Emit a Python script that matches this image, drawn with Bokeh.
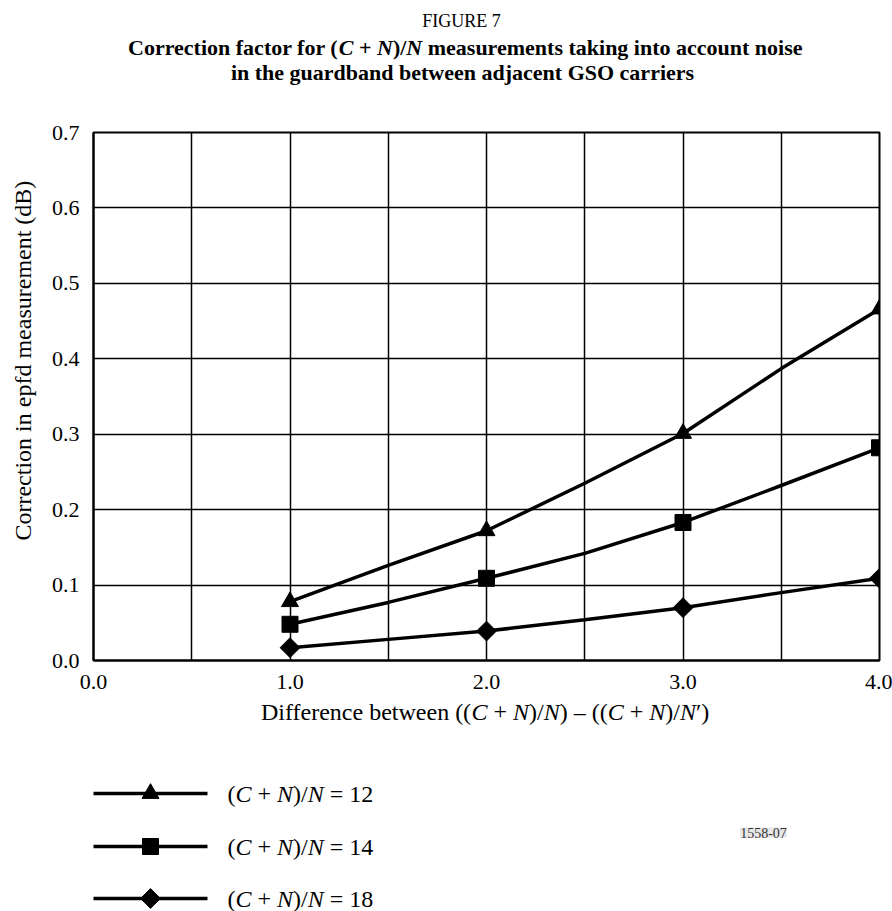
import math
from bokeh.plotting import figure
from bokeh.models import Range1d, FixedTicker, NumeralTickFormatter, Label
from bokeh.layouts import column, row
from bokeh.core.properties import value
from bokeh.embed import file_html
from bokeh.resources import INLINE

# ---------------- data ----------------
x_pts = [1.0, 2.0, 3.0, 4.0]
x_line = [1.0, 1.5, 2.0, 2.5, 3.0, 3.5, 4.0]

cn12_pts = [0.078, 0.172, 0.301, 0.466]
cn12_line = [0.078, 0.126, 0.172, 0.235, 0.301, 0.387, 0.466]
cn14_pts = [0.048, 0.109, 0.183, 0.282]
cn14_line = [0.048, 0.077, 0.109, 0.142, 0.183, 0.232, 0.282]
cn18_pts = [0.017, 0.039, 0.070, 0.109]
cn18_line = [0.017, 0.028, 0.039, 0.054, 0.070, 0.090, 0.109]

x_ticks = [0.0, 1.0, 2.0, 3.0, 4.0]
x_grid = [0.0, 0.5, 1.0, 1.5, 2.0, 2.5, 3.0, 3.5, 4.0]
y_ticks = [0.0, 0.1, 0.2, 0.3, 0.4, 0.5, 0.6, 0.7]

legend_values = ["12", "14", "18"]

FONT = "Liberation Serif"

# ---------------- text metrics (Times / Liberation Serif) ----------------
REG = {' ': 250, '(': 333, ')': 333, '/': 278, '+': 564, '=': 564, '\u2013': 500,
       '\u2032': 250, '.': 250, '-': 333}
for d in "0123456789":
    REG[d] = 500
REG.update(dict(zip("abcdefghijklmnopqrstuvwxyz",
                    [444, 500, 444, 500, 444, 333, 500, 500, 278, 278, 500, 278, 778,
                     500, 500, 500, 500, 333, 389, 278, 500, 500, 722, 500, 500, 444])))
REG.update(dict(zip("ABCDEFGHIJKLMNOPQRSTUVWXYZ",
                    [722, 667, 667, 722, 611, 556, 722, 722, 333, 389, 722, 611, 889,
                     722, 722, 556, 722, 667, 556, 611, 722, 722, 944, 722, 722, 611])))
ITAL = dict(REG)
ITAL.update({'C': 667, 'N': 667})
BOLD = {' ': 250, '(': 333, ')': 333, '/': 278, '+': 570, '=': 570}
BOLD.update(dict(zip("abcdefghijklmnopqrstuvwxyz",
                     [500, 556, 444, 556, 444, 333, 500, 556, 278, 333, 556, 278, 833,
                      556, 500, 556, 556, 444, 389, 333, 556, 500, 722, 500, 500, 444])))
BOLD.update(dict(zip("ABCDEFGHIJKLMNOPQRSTUVWXYZ",
                     [722, 667, 722, 722, 667, 611, 778, 778, 389, 500, 778, 667, 944,
                      722, 778, 611, 778, 722, 556, 667, 722, 722, 1000, 722, 722, 667])))
BOLDITAL = dict(BOLD)
BOLDITAL.update({'C': 667, 'N': 722})
TABLES = {"normal": REG, "italic": ITAL, "bold": BOLD, "bold italic": BOLDITAL}


def seg_width(s, style, size):
    t = TABLES[style]
    return sum(t.get(ch, 500) for ch in s) / 1000.0 * size


def rich_text(f, segs, x, y, size, align="center"):
    total = sum(seg_width(s, st, size) for s, st in segs)
    cx = x - total / 2.0 if align == "center" else x
    for s, st in segs:
        lead = len(s) - len(s.lstrip(" "))
        core = s.strip(" ")
        if core:
            f.text(x=[cx + seg_width(" " * lead, st, size)], y=[y], text=[core],
                   text_font=value(FONT), text_font_size=f"{size}px",
                   text_font_style=st, text_align="left", text_baseline="middle",
                   text_color="black")
        cx += seg_width(s, st, size)


def canvas(w, h):
    f = figure(width=w, height=h, x_range=Range1d(0, w), y_range=Range1d(0, h),
               min_border=0, toolbar_location=None, output_backend="svg",
               x_axis_type=None, y_axis_type=None)
    f.outline_line_color = None
    f.grid.visible = False
    f.background_fill_color = "white"
    f.border_fill_color = "white"
    return f


# ---------------- title ----------------
TH = 108
title = canvas(892, TH)
title.text(x=[461], y=[TH - 20], text=["FIGURE 7"], text_font=value(FONT),
           text_font_size="18px", text_align="center", text_baseline="middle",
           text_color="black")
B, BI = "bold", "bold italic"
rich_text(title, [("Correction factor for (", B), ("C", BI), (" + ", B), ("N", BI),
                  (")/", B), ("N", BI), (" measurements taking into account noise", B)],
          465, TH - 47, 22)
rich_text(title, [("in the guardband between adjacent GSO carriers", B)], 462, TH - 72, 22)

# ---------------- main plot ----------------
MH = 588
p = figure(width=848, height=MH, x_range=Range1d(0, 4), y_range=Range1d(0, 0.7),
           min_border_left=49, min_border_right=13, min_border_top=24,
           min_border_bottom=36, toolbar_location=None, output_backend="svg")
p.outline_line_color = "black"
p.outline_line_width = 2
p.background_fill_color = "white"
p.border_fill_color = "white"

p.xaxis.ticker = FixedTicker(ticks=x_ticks)
p.yaxis.ticker = FixedTicker(ticks=y_ticks)
p.xgrid.ticker = FixedTicker(ticks=x_grid)
p.ygrid.ticker = FixedTicker(ticks=y_ticks)
for ax in (p.xaxis, p.yaxis):
    ax.formatter = NumeralTickFormatter(format="0.0")
    ax.axis_line_color = "black"
    ax.axis_line_width = 2
    ax.major_tick_line_color = None
    ax.minor_tick_line_color = None
    ax.major_tick_in = 0
    ax.major_tick_out = 0
    ax.minor_tick_in = 0
    ax.minor_tick_out = 0
    ax.major_label_text_font = FONT
    ax.major_label_text_font_size = "22px"
    ax.major_label_text_color = "black"
p.xaxis.major_label_standoff = 14
p.yaxis.major_label_standoff = 14
for g in (p.xgrid, p.ygrid):
    g.grid_line_color = "black"
    g.grid_line_width = 1.5
    g.grid_line_alpha = 1.0

LW = 3.5
p.line(x_line, cn12_line, line_width=LW, color="black")
p.line(x_line, cn14_line, line_width=LW, color="black")
p.line(x_line, cn18_line, line_width=LW, color="black")
p.scatter(x_pts, cn12_pts, marker="triangle", size=17, color="black")
p.scatter(x_pts, cn14_pts, marker="square", size=16, color="black")
p.scatter(x_pts, cn18_pts, marker="square", size=14, angle=math.pi / 4, color="black")

# ---------------- y-axis label ----------------
ylab = canvas(44, MH)
ylab.text(x=[22], y=[MH - (362 - TH)], text=["Correction in epfd measurement (dB)"],
          text_font=value(FONT), text_font_size="24px", angle=math.pi / 2,
          text_align="center", text_baseline="middle", text_color="black")

# ---------------- x-axis label and legend ----------------
BH = 911 - TH - MH
top_b = TH + MH
bot = canvas(892, BH)
N_, I_ = "normal", "italic"
rich_text(bot, [("Difference between ((", N_), ("C", I_), (" + ", N_), ("N", I_),
                (")/", N_), ("N", I_), (") \u2013 ((", N_), ("C", I_), (" + ", N_),
                ("N", I_), (")/", N_), ("N", I_), ("\u2032)", N_)],
          485, BH - (711 - top_b), 24)

rows_y = [BH - (793 - top_b), BH - (846 - top_b), BH - (898 - top_b)]
markers = [("triangle", 17, 0.0), ("square", 16, 0.0), ("square", 14, math.pi / 4)]
for yy, (mk, sz, ang), lab in zip(rows_y, markers, legend_values):
    bot.line([93, 207], [yy, yy], line_width=LW, color="black")
    bot.scatter([150], [yy], marker=mk, size=sz, angle=ang, color="black")
    rich_text(bot, [("(", N_), ("C", I_), (" + ", N_), ("N", I_), (")/", N_),
                    ("N", I_), (" = " + lab, N_)], 227, yy, 24, align="left")

bot.add_layout(Label(x=763, y=BH - (832 - top_b), text="1558-07", text_font=FONT,
                     text_font_size="14px", text_color="#333333",
                     text_align="center", text_baseline="middle",
                     background_fill_color="#e6e6e6", background_fill_alpha=1.0))

layout = column(title, row(ylab, p, spacing=0), bot, spacing=0)

open("out.html", "w").write(file_html(layout, INLINE))
